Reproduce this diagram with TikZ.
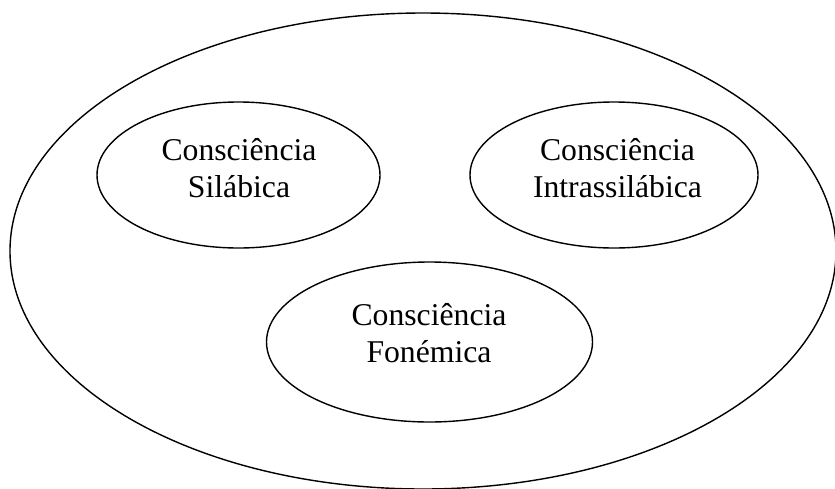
\documentclass[tikz,border=0pt]{standalone}
\usepackage{fontspec}
\setmainfont{Liberation Serif}
\usetikzlibrary{shapes.geometric}
\begin{document}
\begin{tikzpicture}[x=1pt,y=-1pt,
  bubble/.style={draw=black,line width=1.4pt,ellipse,inner sep=0pt},
  lbl/.style={align=center,inner sep=0pt,font=\fontsize{31.7}{37}\selectfont}]
\useasboundingbox (0,0) rectangle (835,488);
\node[bubble,minimum width=826pt,minimum height=476pt] (outer) at (423,251) {};
\node[bubble,minimum width=283pt,minimum height=146pt] (sil) at (238.5,175) {};
\node[bubble,minimum width=288pt,minimum height=146pt] (intra) at (614,175) {};
\node[bubble,minimum width=326pt,minimum height=160pt] (fon) at (429.5,342) {};
\node[lbl] (tsil) at (239,167.7) {Consciência\\Silábica};
\node[lbl] (tintra) at (617.5,167.7) {Consciência\\Intrassilábica};
\node[lbl] (tfon) at (429,332.7) {Consciência\\Fonémica};
\end{tikzpicture}
\end{document}
